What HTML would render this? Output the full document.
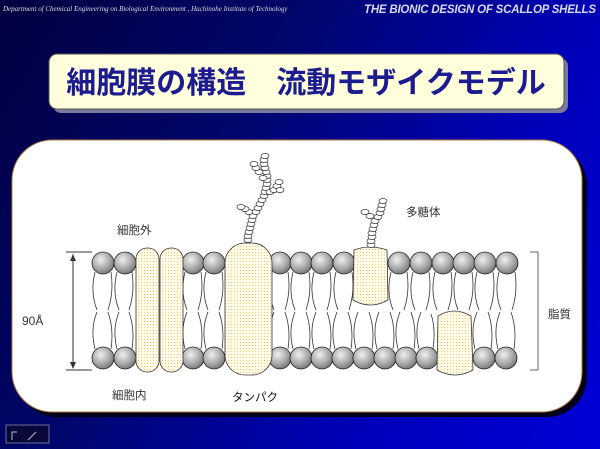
<!DOCTYPE html>
<html><head><meta charset="utf-8"><style>
html,body{margin:0;padding:0;width:600px;height:449px;overflow:hidden}
body{background:linear-gradient(120deg,#000040 0%,#00066a 35%,#0000b8 70%,#0000d8 100%);font-family:"Liberation Sans","Noto Sans CJK JP",sans-serif}
</style></head><body>
<svg width="600" height="449" viewBox="0 0 600 449" xmlns="http://www.w3.org/2000/svg" style="position:absolute;left:0;top:0">
<defs>
<radialGradient id="hg" cx="0.4" cy="0.35" r="0.7"><stop offset="0" stop-color="#f0f0f0"/><stop offset="0.6" stop-color="#a8a8a8"/><stop offset="1" stop-color="#707070"/></radialGradient>
<pattern id="dots" width="3" height="3" patternUnits="userSpaceOnUse"><rect width="3" height="3" fill="#fffbe8"/><rect width="1" height="1" fill="#e8c870"/></pattern>
</defs>
<text x="3" y="11" font-family="Liberation Serif,serif" font-style="italic" font-size="7" fill="#ddd">Department of Chemical Engineering on Biological Environment , Hachinohe Institute of Technology</text>
<text x="364" y="13" font-family="Liberation Sans,sans-serif" font-style="italic" font-weight="bold" font-size="11.5" fill="#d8d8f0" textLength="232">THE BIONIC DESIGN OF  SCALLOP SHELLS</text>
<rect x="53" y="58" width="515" height="55" rx="8" fill="#7a7a9a"/>
<rect x="49" y="54" width="515" height="55" rx="8" fill="#ffffdc" stroke="#555" stroke-width="1"/>
<text x="306" y="93" text-anchor="middle" font-family="Noto Sans CJK JP,sans-serif" font-weight="bold" font-size="30" fill="#1c1c90">細胞膜の構造　流動モザイクモデル</text>
<rect x="17" y="145" width="570" height="272" rx="40" fill="#00001a"/>
<rect x="12" y="140" width="570" height="272" rx="40" fill="#fff" stroke="#b07840" stroke-width="1"/>
<g fill="none" stroke="#333" stroke-width="0.8">
<path d="M95 272Q90 292 97 310M111 272Q114 292 108 310M117 272Q112 292 119 310M132 272Q135 292 129 310M185 272Q180 292 187 310M201 272Q204 292 198 310M206 272Q201 292 208 310M222 272Q225 292 219 310M272 272Q267 292 274 310M288 272Q291 292 285 310M293 272Q288 292 295 310M309 272Q312 292 306 310M314 272Q309 292 316 310M330 272Q333 292 327 310M336 272Q331 292 338 310M352 272Q355 292 349 310M391 272Q386 292 393 310M407 272Q410 292 404 310M413 272Q408 292 415 310M429 272Q432 292 426 310M435 272Q430 292 437 310M451 272Q454 292 448 310M456 272Q451 292 458 310M472 272Q475 292 469 310M477 272Q472 292 479 310M493 272Q496 292 490 310M499 272Q494 292 501 310M515 272Q518 292 512 310"/>
<path d="M95 349Q90 329 97 312M111 349Q114 329 108 312M117 349Q112 329 119 312M132 349Q135 329 129 312M185 349Q180 329 187 312M201 349Q204 329 198 312M206 349Q201 329 208 312M222 349Q225 329 219 312M272 349Q267 329 274 312M288 349Q291 329 285 312M293 349Q288 329 295 312M309 349Q312 329 306 312M314 349Q309 329 316 312M330 349Q333 329 327 312M335 349Q330 329 337 312M351 349Q354 329 348 312M356 349Q351 329 358 312M372 349Q375 329 369 312M377 349Q372 329 379 312M393 349Q396 329 390 312M398 349Q393 329 400 312M414 349Q417 329 411 312M419 349Q414 329 421 312M433 349Q436 329 431 314M475 349Q470 329 477 312M491 349Q494 329 488 312M498 349Q493 329 500 312M514 349Q517 329 511 312"/>
</g>
<g fill="url(#hg)" stroke="#222" stroke-width="0.8">
<circle cx="103" cy="263" r="11"/><circle cx="125" cy="263" r="11"/><circle cx="193" cy="263" r="11"/><circle cx="214" cy="263" r="11"/><circle cx="280" cy="263" r="11"/><circle cx="301" cy="263" r="11"/><circle cx="322" cy="263" r="11"/><circle cx="344" cy="263" r="11"/><circle cx="399" cy="263" r="11"/><circle cx="421" cy="263" r="11"/><circle cx="443" cy="263" r="11"/><circle cx="464" cy="263" r="11"/><circle cx="485" cy="263" r="11"/><circle cx="507" cy="263" r="11"/>
<circle cx="103" cy="358" r="11"/><circle cx="125" cy="358" r="11"/><circle cx="193" cy="358" r="11"/><circle cx="214" cy="358" r="11"/><circle cx="280" cy="358" r="11"/><circle cx="301" cy="358" r="11"/><circle cx="322" cy="358" r="11"/><circle cx="343" cy="358" r="11"/><circle cx="364" cy="358" r="11"/><circle cx="385" cy="358" r="11"/><circle cx="406" cy="358" r="11"/><circle cx="427" cy="358" r="11"/><circle cx="484" cy="358" r="11"/><circle cx="506" cy="358" r="11"/>
</g>
<g fill="url(#dots)" stroke="#333" stroke-width="0.8">
<rect x="136" y="248" width="23" height="124" rx="11"/>
<rect x="160" y="248" width="23" height="124" rx="11"/>
<rect x="225" y="243" width="47" height="132" rx="20"/>
<path d="M354 250Q370 244 387 250L388 300Q370 310 353 300Z"/>
<path d="M438 316Q454 306 471 316L473 370Q455 380 437 370Z"/>
</g>
<g fill="#fff" stroke="#333" stroke-width="0.7">
<ellipse cx="248" cy="240" rx="4" ry="2.5"/><ellipse cx="248" cy="236" rx="4" ry="2.5"/><ellipse cx="249" cy="232" rx="4" ry="2.5"/><ellipse cx="250" cy="228" rx="4" ry="2.5"/><ellipse cx="251" cy="224" rx="4" ry="2.5"/><ellipse cx="252" cy="220" rx="4" ry="2.5"/><ellipse cx="253" cy="216" rx="4" ry="2.5"/>
<ellipse cx="249" cy="212" rx="4" ry="2.5"/><ellipse cx="245" cy="209" rx="4" ry="2.5"/><ellipse cx="241" cy="207" rx="4" ry="2.5"/>
<ellipse cx="256" cy="212" rx="4" ry="2.5"/><ellipse cx="258" cy="208" rx="4" ry="2.5"/><ellipse cx="260" cy="204" rx="4" ry="2.5"/><ellipse cx="262" cy="200" rx="4" ry="2.5"/><ellipse cx="264" cy="196" rx="4" ry="2.5"/><ellipse cx="265" cy="192" rx="4" ry="2.5"/><ellipse cx="266" cy="188" rx="4" ry="2.5"/><ellipse cx="267" cy="184" rx="4" ry="2.5"/><ellipse cx="267" cy="180" rx="4" ry="2.5"/><ellipse cx="267" cy="176" rx="4" ry="2.5"/><ellipse cx="266" cy="172" rx="4" ry="2.5"/><ellipse cx="265" cy="168" rx="4" ry="2.5"/><ellipse cx="264" cy="164" rx="4" ry="2.5"/><ellipse cx="264" cy="160" rx="4" ry="2.5"/><ellipse cx="265" cy="156" rx="4" ry="2.5"/>
<ellipse cx="263" cy="178" rx="4" ry="2.5"/><ellipse cx="259" cy="172" rx="4" ry="2.5"/><ellipse cx="256" cy="168" rx="4" ry="2.5"/><ellipse cx="254" cy="164" rx="4" ry="2.5"/>
<ellipse cx="270" cy="192" rx="4" ry="2.5"/><ellipse cx="274" cy="190" rx="4" ry="2.5"/><ellipse cx="277" cy="186" rx="4" ry="2.5"/><ellipse cx="279" cy="182" rx="4" ry="2.5"/><ellipse cx="280" cy="190" rx="4" ry="2.5"/>
<ellipse cx="371" cy="245" rx="4" ry="2.5"/><ellipse cx="371" cy="241" rx="4" ry="2.5"/><ellipse cx="372" cy="237" rx="4" ry="2.5"/><ellipse cx="372" cy="233" rx="4" ry="2.5"/><ellipse cx="373" cy="229" rx="4" ry="2.5"/><ellipse cx="374" cy="225" rx="4" ry="2.5"/><ellipse cx="375" cy="221" rx="4" ry="2.5"/><ellipse cx="370" cy="216" rx="4" ry="2.5"/><ellipse cx="365" cy="212" rx="4" ry="2.5"/>
<ellipse cx="378" cy="217" rx="4" ry="2.5"/><ellipse cx="380" cy="213" rx="4" ry="2.5"/><ellipse cx="381" cy="209" rx="4" ry="2.5"/><ellipse cx="382" cy="205" rx="4" ry="2.5"/><ellipse cx="383" cy="201" rx="4" ry="2.5"/>
</g>
<g stroke="#333" stroke-width="1" fill="none">
<path d="M66 252H92M66 370H92M73 254V368"/>
<path d="M530 252H538V370H530" stroke="#666"/>
</g>
<path d="M73 254l-3 7h6zM73 369l-3 -7h6z" fill="#333"/>
<g font-family="Liberation Sans,Noto Sans CJK JP,sans-serif" font-size="11.5" fill="#333">
<text x="117" y="234">細胞外</text>
<text x="112" y="399">細胞内</text>
<text x="232" y="401" fill="#111">タンパク</text>
<text x="406" y="216">多糖体</text>
<text x="548" y="318">脂質</text>
<text x="22" y="325" font-size="12">90Å</text>
</g>
<rect x="6" y="425" width="43" height="18" fill="#08083a" stroke="#8888aa" stroke-width="0.8"/>
<path d="M12 440V432H17M28 440L36 432" stroke="#bbb" fill="none"/>
</svg>
</body></html>
